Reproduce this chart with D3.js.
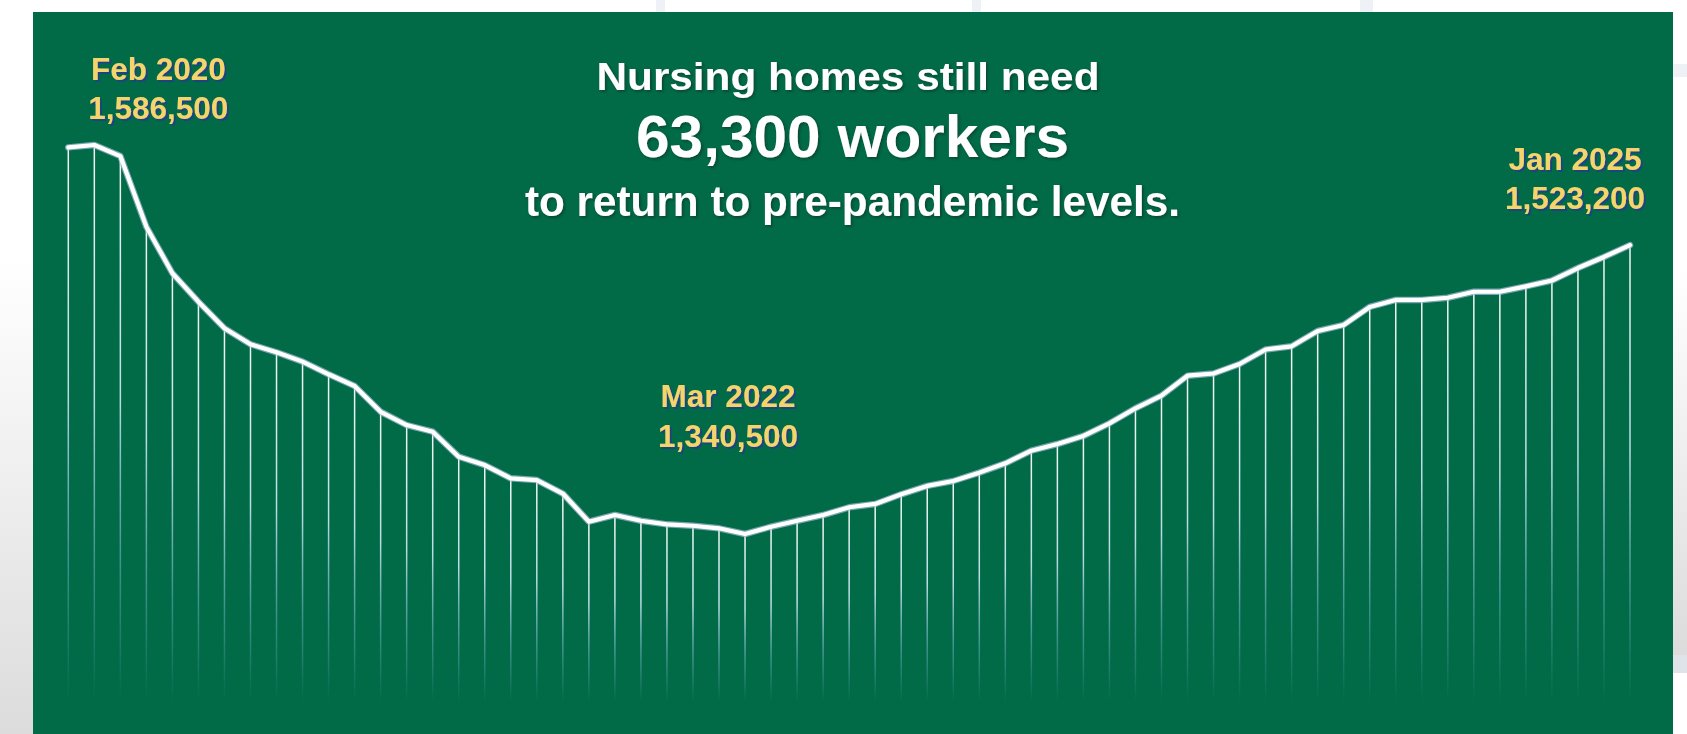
<!DOCTYPE html>
<html>
<head>
<meta charset="utf-8">
<script src="https://cdn.jsdelivr.net/npm/d3@7"></script>
<style>
  html, body { margin: 0; padding: 0; background: #ffffff; overflow: hidden; }
  svg { display: block; }
</style>
</head>
<body>
<script>
// monthly nursing home employment, Jan 2020 - Jan 2025
var months = [
  "2020-01","2020-02","2020-03","2020-04","2020-05","2020-06","2020-07","2020-08","2020-09","2020-10","2020-11","2020-12",
  "2021-01","2021-02","2021-03","2021-04","2021-05","2021-06","2021-07","2021-08","2021-09","2021-10","2021-11","2021-12",
  "2022-01","2022-02","2022-03","2022-04","2022-05","2022-06","2022-07","2022-08","2022-09","2022-10","2022-11","2022-12",
  "2023-01","2023-02","2023-03","2023-04","2023-05","2023-06","2023-07","2023-08","2023-09","2023-10","2023-11","2023-12",
  "2024-01","2024-02","2024-03","2024-04","2024-05","2024-06","2024-07","2024-08","2024-09","2024-10","2024-11","2024-12",
  "2025-01"
];

var workers = [
  1585000, 1586500, 1579500, 1534800, 1505400, 1487400, 1470600, 1460500, 1455400, 1449500, 1441500, 1434100,
  1417800, 1409400, 1405200, 1389400, 1384100, 1375700, 1374600, 1366100, 1348300, 1352500, 1348900, 1346600,
  1345700, 1344100, 1340500, 1345100, 1348900, 1352500, 1357400, 1359500, 1365600, 1370900, 1374000, 1379300,
  1385200, 1393200, 1397400, 1402500, 1410500, 1420000, 1428000, 1440600, 1442000, 1448000, 1457200, 1459200,
  1468900, 1472700, 1484100, 1488500, 1488500, 1489900, 1493700, 1493700, 1497100, 1500800, 1508700, 1515700,
  1523200
];

var calloutMonths = ["2020-02", "2022-03", "2025-01"];
var calloutLabels = ["Feb 2020", "Mar 2022", "Jan 2025"];

var titleLines = ["Nursing homes still need", "63,300 workers", "to return to pre-pandemic levels."];

var width = 1687,
    height = 734;

var panel = { x: 33, y: 12, w: 1640, h: 722 };
var dropBottom = 702;

var x = d3.scalePoint().domain(months).range([68.3, 1630]);
var y = d3.scaleLinear().domain([1340500, 1586500]).range([534, 145]);

var fmt = d3.format(",");

var svg = d3.select("body").append("svg")
    .attr("width", width)
    .attr("height", height);

var defs = svg.append("defs");

var grad = defs.append("linearGradient")
    .attr("id", "drop")
    .attr("x1", 0).attr("y1", 0).attr("x2", 0).attr("y2", 1);
grad.append("stop").attr("offset", "0%").attr("stop-color", "#ffffff").attr("stop-opacity", 0.95);
grad.append("stop").attr("offset", "45%").attr("stop-color", "#cde9f5").attr("stop-opacity", 0.9);
grad.append("stop").attr("offset", "75%").attr("stop-color", "#86c3de").attr("stop-opacity", 0.45);
grad.append("stop").attr("offset", "100%").attr("stop-color", "#86c3de").attr("stop-opacity", 0);

var side = defs.append("linearGradient")
    .attr("id", "side")
    .attr("x1", 0).attr("y1", 0).attr("x2", 0).attr("y2", 1);
side.append("stop").attr("offset", "0%").attr("stop-color", "#ffffff");
side.append("stop").attr("offset", "100%").attr("stop-color", "#dcdcdc");

var shTitle = defs.append("filter").attr("id", "shTitle")
    .attr("x", "-5%").attr("y", "-20%").attr("width", "110%").attr("height", "150%");
shTitle.append("feDropShadow")
    .attr("dx", 1.5).attr("dy", 1.5).attr("stdDeviation", 0.8)
    .attr("flood-color", "#0d2a22").attr("flood-opacity", 0.55);

var shLabel = defs.append("filter").attr("id", "shLabel")
    .attr("x", "-5%").attr("y", "-20%").attr("width", "110%").attr("height", "150%");
shLabel.append("feDropShadow")
    .attr("dx", 2).attr("dy", 2).attr("stdDeviation", 0.5)
    .attr("flood-color", "#1f3f86").attr("flood-opacity", 0.9);

defs.append("clipPath").attr("id", "clip")
  .append("rect")
    .attr("x", panel.x).attr("y", panel.y)
    .attr("width", panel.w).attr("height", panel.h);

// page decoration behind the card
svg.append("rect").attr("x", 0).attr("y", 260).attr("width", panel.x).attr("height", height - 260)
    .attr("fill", "url(#side)");
svg.append("rect").attr("x", panel.x + panel.w).attr("y", 270).attr("width", width - panel.x - panel.w).attr("height", 385)
    .attr("fill", "url(#side)");
svg.append("rect").attr("x", panel.x + panel.w).attr("y", 655).attr("width", width - panel.x - panel.w).attr("height", 18)
    .attr("fill", "#dfe3ea");
svg.append("rect").attr("x", panel.x + panel.w).attr("y", 64).attr("width", width - panel.x - panel.w).attr("height", 13)
    .attr("fill", "#eef1f6");
svg.append("rect").attr("x", 656).attr("y", 0).attr("width", 9).attr("height", panel.y).attr("fill", "#eef1f6");
svg.append("rect").attr("x", 972).attr("y", 0).attr("width", 9).attr("height", panel.y).attr("fill", "#eef1f6");
svg.append("rect").attr("x", 1360).attr("y", 0).attr("width", 13).attr("height", panel.y).attr("fill", "#eef1f6");

// green card
svg.append("rect")
    .attr("x", panel.x).attr("y", panel.y)
    .attr("width", panel.w).attr("height", panel.h)
    .attr("fill", "#016a47");

var data = months.map(function(m, i) { return { month: m, value: workers[i] }; });

var chart = svg.append("g").attr("clip-path", "url(#clip)");

// drop lines under each month
chart.selectAll(".drop")
    .data(data)
  .enter().append("rect")
    .attr("class", "drop")
    .attr("x", function(d) { return x(d.month) - 0.75; })
    .attr("y", function(d) { return y(d.value); })
    .attr("width", 1.5)
    .attr("height", function(d) { return dropBottom - y(d.value); })
    .attr("fill", "url(#drop)");

var line = d3.line()
    .x(function(d) { return x(d.month); })
    .y(function(d) { return y(d.value); });

chart.append("path")
    .datum(data)
    .attr("d", line)
    .attr("fill", "none")
    .attr("stroke", "#a9bfe0")
    .attr("stroke-opacity", 0.7)
    .attr("stroke-width", 6.5)
    .attr("stroke-linejoin", "round")
    .attr("stroke-linecap", "round");

chart.append("path")
    .datum(data)
    .attr("d", line)
    .attr("fill", "none")
    .attr("stroke", "#ffffff")
    .attr("stroke-width", 4.2)
    .attr("stroke-linejoin", "round")
    .attr("stroke-linecap", "round");

// title block
var titleSpec = [
  { size: 39, base: 89.5, len: 503 },
  { size: 60, base: 156.5, len: 433 },
  { size: 42, base: 216, len: 655 }
];

svg.selectAll(".title")
    .data(titleLines)
  .enter().append("text")
    .attr("class", "title")
    .attr("x", function(d, i) { return i == 0 ? 848 : 852.5; })
    .attr("y", function(d, i) { return titleSpec[i].base; })
    .attr("text-anchor", "middle")
    .attr("textLength", function(d, i) { return titleSpec[i].len; })
    .attr("lengthAdjust", "spacingAndGlyphs")
    .style("font-family", "Arial, 'Liberation Sans', sans-serif")
    .style("font-weight", "bold")
    .style("font-size", function(d, i) { return titleSpec[i].size + "px"; })
    .style("fill", "#ffffff")
    .attr("filter", "url(#shTitle)")
    .text(function(d) { return d; });

// callouts: label offsets relative to the marked point
var calloutPos = [
  { dx: 64, top: 80, bottom: 118.5 },
  { dx: -17, top: 406.7, bottom: 446.5 },
  { dx: -55, top: 170, bottom: 209 }
];

var callouts = svg.selectAll(".callout")
    .data(calloutMonths)
  .enter().append("g")
    .attr("class", "callout")
    .attr("filter", "url(#shLabel)")
    .style("font-family", "Arial, 'Liberation Sans', sans-serif")
    .style("font-weight", "bold")
    .style("font-size", "31.5px")
    .style("fill", "#f4d56c");

callouts.append("text")
    .attr("x", function(d, i) { return x(d) + calloutPos[i].dx; })
    .attr("y", function(d, i) { return calloutPos[i].top; })
    .attr("text-anchor", "middle")
    .text(function(d, i) { return calloutLabels[i]; });

callouts.append("text")
    .attr("x", function(d, i) { return x(d) + calloutPos[i].dx; })
    .attr("y", function(d, i) { return calloutPos[i].bottom; })
    .attr("text-anchor", "middle")
    .text(function(d) { return fmt(workers[months.indexOf(d)]); });
</script>
</body>
</html>
